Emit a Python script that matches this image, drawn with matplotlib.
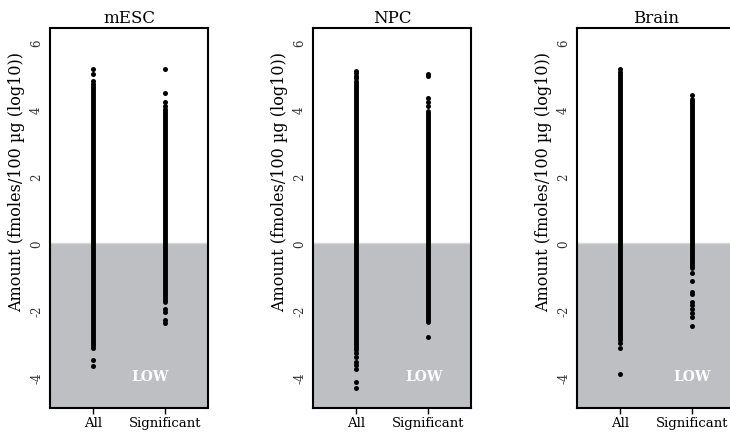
import numpy as np
import matplotlib
matplotlib.use('Agg')
import matplotlib.pyplot as plt

plt.rcParams['font.family'] = ['DejaVu Serif']

panels = ["mESC", "NPC", "Brain"]
groups = ["All", "Significant"]

# dense core of each strip (low, high), log10 fmoles/100 ug
mesc_all_core = (-3.07, 4.69)
mesc_sig_core = (-1.76, 4.00)
npc_all_core = (-3.20, 4.85)
npc_sig_core = (-2.37, 3.95)
brain_all_core = (-2.90, 5.05)
brain_sig_core = (-0.75, 4.30)

# isolated points outside the dense core
mesc_all_pts = [5.19, 5.04, 4.84, 4.75, -3.15, -3.49, -3.67]
mesc_sig_pts = [5.19, 4.48, 4.21, 4.09, -1.97, -2.06, -2.30, -2.40]
npc_all_pts = [5.13, 5.08, 5.00, 4.93, -3.30, -3.40, -3.55, -3.65, -3.76, -4.16, -4.33]
npc_sig_pts = [5.05, 4.98, 4.33, 4.22, 4.10, -2.80]
brain_all_pts = [5.19, 5.12, -3.00, -3.13, -3.91]
brain_sig_pts = [4.43, -0.90, -1.15, -1.47, -1.52, -1.75, -1.85, -1.97, -2.10, -2.20, -2.47]

cores = [(mesc_all_core, mesc_sig_core), (npc_all_core, npc_sig_core), (brain_all_core, brain_sig_core)]
pts = [(mesc_all_pts, mesc_sig_pts), (npc_all_pts, npc_sig_pts), (brain_all_pts, brain_sig_pts)]
low_x = [1.79, 1.95, 2.0]

fig = plt.figure(figsize=(7.3, 4.35), dpi=100)
lefts = [50, 313, 577]
for k, name in enumerate(panels):
    ax = fig.add_axes([lefts[k] / 730, 26 / 435, 158 / 730, 380 / 435])
    ax.set_xlim(0.4, 2.6)
    ax.set_ylim(-4.93, 6.42)
    ax.axhspan(-4.93, 0, color='#bebfc2', zorder=0, lw=0)
    ax.axhline(0, color='#d8d8d8', lw=1, zorder=1)
    for j in range(2):
        lo, hi = cores[k][j]
        ax.plot([j + 1, j + 1], [lo, hi], color='black', lw=3.5,
                solid_capstyle='round', zorder=3)
        ax.plot([j + 1] * len(pts[k][j]), pts[k][j], 'o', color='black',
                ms=3.6, mew=0, zorder=3)
    ax.text(low_x[k], -3.97, "LOW", color='white', fontsize=10, fontweight='bold',
            ha='center', va='center')
    ax.set_xticks([1, 2])
    ax.set_xticklabels(groups, fontsize=9.5)
    ax.set_yticks([-4, -2, 0, 2, 4, 6])
    ax.set_yticklabels(['-4', '-2', '0', '2', '4', '6'], rotation=90, va='center',
                       fontsize=8.5, color='#333333')
    ax.tick_params(axis='y', length=0, pad=5)
    ax.tick_params(axis='x', length=4, width=1, pad=2)
    for s in ax.spines.values():
        s.set_linewidth(1.5)
    ax.set_ylabel("Amount (fmoles/100 µg (log10))", fontsize=11.5)
    ax.yaxis.set_label_coords(-0.16, 0.597)
    ax.set_title(name, fontsize=12, pad=4)

fig.savefig("out.png", dpi=100)
